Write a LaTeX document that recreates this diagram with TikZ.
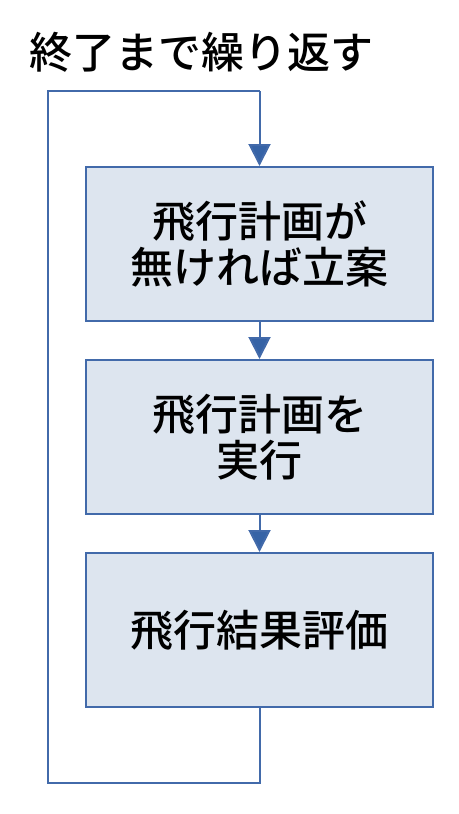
\documentclass[tikz,border=0pt]{standalone}
\usepackage{fontspec}
\newfontfamily\jpfont{Noto Sans CJK JP}[UprightFont={* Medium}]
\usetikzlibrary{arrows.meta}
\definecolor{edgeblue}{RGB}{66,106,170}
\definecolor{tipblue}{RGB}{54,99,166}
\definecolor{boxfill}{RGB}{221,229,239}
\tikzset{
  stepbox/.style={draw=edgeblue, fill=boxfill, line width=2pt, minimum width=347pt, minimum height=154pt, inner sep=0pt, align=center, font=\jpfont\fontsize{43}{46}\selectfont},
  flow/.style={draw=edgeblue, line width=2pt, -{Triangle[length=22pt,width=22pt,fill=tipblue]}},
  loopline/.style={draw=edgeblue, line width=2pt}
}
\begin{document}
\begin{tikzpicture}[x=1pt,y=-1pt]
\useasboundingbox (0,0) rectangle (458,814);
\node[font=\jpfont\fontsize{43}{46}\selectfont] (title) at (201,52) {終了まで繰り返す};
\node[stepbox] (b1) at (259.5,244) {飛行計画が\\無ければ立案};
\node[stepbox] (b2) at (259.5,437) {飛行計画を\\実行};
\node[stepbox] (b3) at (259.5,630) {飛行結果評価};
\coordinate (bl) at (259.5,783);
\coordinate (ll) at (48,783);
\coordinate (tl) at (48,91);
\coordinate (tr) at (259.5,91);
\draw[flow] (b1) -- (b2);
\draw[flow] (b2) -- (b3);
\draw[loopline] (b3.south) -- (bl) -- (ll) -- (tl) -- (tr);
\draw[flow] (tr) -- (b1.north);
\end{tikzpicture}
\end{document}
